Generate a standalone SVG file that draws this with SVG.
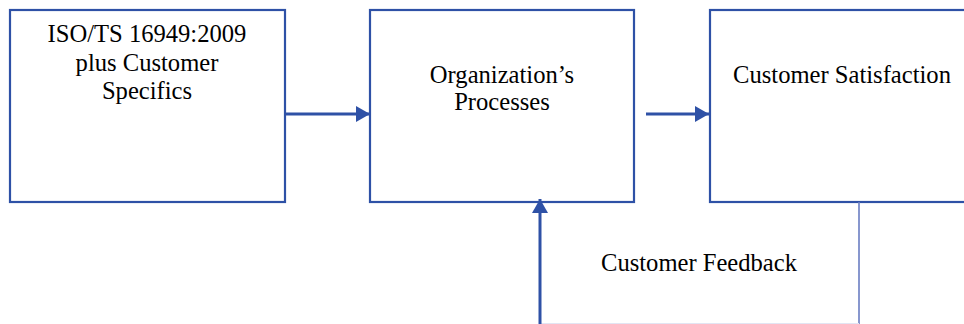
<svg xmlns="http://www.w3.org/2000/svg" width="964" height="324" viewBox="0 0 964 324">
<style>
.box{fill:#fff;stroke:#2E51A6;stroke-width:2.2}
.t{font-family:"Liberation Serif","Times New Roman",serif;font-size:24.6px;fill:#000;text-anchor:middle}
.arr{stroke:#2E51A6;stroke-width:3;fill:none}
</style>
<defs>
<marker id="ah" markerUnits="userSpaceOnUse" markerWidth="14" markerHeight="16" refX="14" refY="8" orient="auto">
<path d="M0,0 L14,8 L0,16 Z" fill="#2E51A6"/>
</marker>
</defs>
<rect width="964" height="324" fill="#fff"/>
<g id="node-iso">
<rect class="box" x="10" y="10" width="275" height="192"/>
<text class="t" x="147" y="42">ISO/TS 16949:2009</text>
<text class="t" x="147" y="71">plus Customer</text>
<text class="t" x="147" y="99">Specifics</text>
</g>
<g id="node-processes">
<rect class="box" x="370" y="10" width="264" height="192"/>
<text class="t" x="502" y="83">Organization’s</text>
<text class="t" x="502" y="110">Processes</text>
</g>
<g id="node-satisfaction">
<rect class="box" x="710" y="10" width="266" height="192"/>
<text class="t" x="842" y="83">Customer Satisfaction</text>
</g>
<g id="connectors">
<line class="arr" x1="286" y1="114" x2="370" y2="114" marker-end="url(#ah)"/>
<line class="arr" x1="646" y1="114" x2="709" y2="114" marker-end="url(#ah)"/>
<line x1="859" y1="202" x2="859" y2="324" stroke="#6A7DC2" stroke-width="1.6"/>
<line x1="540" y1="323.5" x2="859" y2="323.5" stroke="#E2E5F3" stroke-width="1"/>
<line class="arr" x1="540" y1="324" x2="540" y2="199" marker-end="url(#ah)"/>
<text class="t" x="699" y="271">Customer Feedback</text>
</g>
</svg>
